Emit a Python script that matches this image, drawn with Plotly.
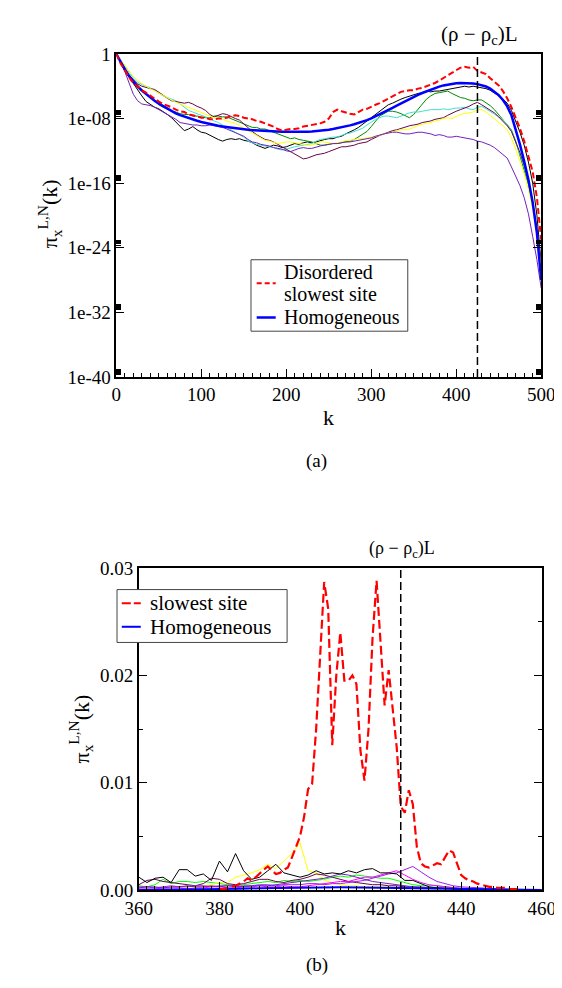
import plotly.graph_objects as go

# ---------------- DATA ----------------
# Panel (a): k grid and log10 of pi_x^{L,N}(k)
k_top = list(range(0, 501, 5))

homogeneous_log10 = [-v for v in [
    0, 1.0, 1.95, 2.75, 3.45, 4.05, 4.55, 5.0, 5.4, 5.8,
    6.15, 6.45, 6.8, 7.1, 7.35, 7.58, 7.78, 7.95, 8.12, 8.28,
    8.44, 8.57, 8.69, 8.8, 8.9, 8.99, 9.07, 9.14, 9.21, 9.28,
    9.34, 9.39, 9.44, 9.48, 9.52, 9.55, 9.58, 9.6, 9.62, 9.64,
    9.65, 9.66, 9.66, 9.66, 9.65, 9.63, 9.6, 9.56, 9.51, 9.45,
    9.38, 9.3, 9.21, 9.1, 8.98, 8.85, 8.71, 8.56, 8.4, 8.2,
    7.98, 7.74, 7.49, 7.23, 6.96, 6.68, 6.4, 6.12, 5.85, 5.59,
    5.33, 5.08, 4.84, 4.62, 4.41, 4.22, 4.05, 3.9, 3.78, 3.69,
    3.63, 3.6, 3.59, 3.61, 3.66, 3.74, 3.86, 4.03, 4.3, 4.65,
    5.1, 5.7, 6.5, 7.6, 9.3, 11.2, 13.3, 15.6, 18.4, 22.2,
    28]]

slowest_log10 = [-v for v in [
    0, 1.2, 2.0, 2.9, 3.6, 4.1, 4.5, 4.8, 5.2, 5.6,
    5.9, 6.2, 6.4, 6.6, 6.9, 7.1, 7.2, 7.5, 7.6, 7.8,
    7.9, 7.9, 8.1, 8.1, 8.0, 8.0, 7.9, 7.7, 7.6, 7.7,
    7.9, 8.0, 8.1, 8.3, 8.4, 8.6, 8.8, 9.0, 9.3, 9.5,
    9.4, 9.3, 9.3, 9.2, 9.0, 8.9, 8.8, 8.7, 8.6, 8.4,
    8.0, 7.2, 6.9, 7.1, 7.3, 7.4, 7.5, 7.2, 6.9, 6.8,
    6.5, 6.3, 6.1, 5.8, 5.5, 5.2, 4.9, 4.7, 4.6, 4.5,
    4.5, 4.3, 4.2, 4.0, 3.8, 3.6, 3.3, 3.0, 2.7, 2.4,
    2.1, 1.7, 1.6, 1.7, 1.6, 2.1, 2.3, 2.5, 3.0, 3.4,
    3.9, 4.6, 5.5, 6.6, 7.8, 9.2, 10.8, 12.6, 14.6, 17.8,
    23]]

black_log10 = [-v for v in [
    0, 1.1, 2.1, 2.9, 3.7, 4.5, 5.2, 5.9, 6.3, 6.6,
    6.8, 7.1, 7.5, 7.9, 8.4, 8.9, 9.5, 9.3, 9.0, 9.4,
    9.7, 9.8, 10.1, 10.3, 10.6, 10.8, 10.6, 10.5, 10.6, 10.5,
    10.7, 10.8, 11.0, 11.3, 11.5, 11.7, 11.5, 11.3, 11.4, 11.6,
    11.5, 11.3, 11.1, 11.2, 11.0, 10.9, 11.0, 10.9, 10.7, 10.6,
    10.5, 10.5, 10.3, 10.2, 9.9, 9.7, 9.4, 9.1, 8.7, 8.2,
    7.8, 7.4, 7.1, 6.7, 6.3, 6.1, 5.8, 5.6, 5.4, 5.2,
    5.1, 4.9, 4.8, 4.6, 4.7, 4.6, 4.6, 4.5, 4.4, 4.3,
    4.2, 4.1, 4.0, 4.1, 4.0, 4.1, 4.2, 4.3, 4.5, 4.8,
    5.2, 5.6, 6.1, 7.0, 8.3, 9.7, 11.3, 13.4, 16.0, 20.0,
    26]]

green_log10 = [-v for v in [
    0, 0.9, 1.8, 2.7, 3.4, 3.9, 4.4, 4.9, 5.4, 5.9,
    6.3, 6.6, 6.9, 7.1, 7.2, 7.4, 7.5, 7.5, 7.7, 7.7,
    7.8, 7.9, 7.9, 7.7, 7.7, 7.8, 7.8, 8.0, 8.2, 8.5,
    8.7, 8.9, 9.1, 9.1, 9.3, 9.3, 9.5, 9.7, 9.9, 10.1,
    10.3, 10.5, 10.4, 10.6, 10.7, 10.8, 10.9, 11.1, 11.3, 11.3,
    11.2, 11.1, 11.1, 11.0, 10.9, 10.8, 10.6, 10.3, 10.0, 9.6,
    9.0, 8.3, 7.7, 7.4, 7.1, 7.1, 7.2, 7.4, 7.7, 7.9,
    7.5, 6.9, 6.2, 5.6, 5.2, 4.9, 4.8, 4.7, 4.6, 4.9,
    5.2, 5.4, 5.5, 5.7, 5.8, 5.7, 5.7, 6.0, 6.4, 6.9,
    7.5, 8.1, 8.7, 9.4, 10.8, 12.5, 14.2, 16.2, 18.5, 21.8,
    26]]

cyan_log10 = [-v for v in [
    0, 0.8, 1.6, 2.3, 3.0, 3.5, 3.8, 4.0, 4.2, 4.5,
    4.9, 5.2, 5.4, 5.6, 5.8, 6.2, 6.6, 7.0, 7.2, 7.4,
    7.6, 7.8, 8.0, 8.3, 8.5, 8.8, 9.1, 9.3, 9.6, 9.9,
    10.3, 10.8, 11.0, 11.2, 11.3, 11.4, 11.5, 11.6, 11.8, 11.9,
    11.8, 11.6, 11.5, 11.4, 11.3, 11.2, 11.1, 10.8, 10.6, 10.5,
    10.4, 10.3, 10.3, 10.1, 9.9, 9.8, 9.6, 9.4, 9.2, 8.8,
    8.4, 8.1, 7.9, 7.7, 7.7, 7.8, 7.9, 7.7, 7.5, 7.3,
    7.2, 7.2, 7.1, 7.0, 6.9, 6.9, 6.9, 6.8, 6.9, 6.8,
    6.7, 6.7, 6.6, 6.8, 6.9, 6.6, 6.5, 6.8, 7.1, 7.4,
    7.8, 8.2, 8.7, 9.5, 10.9, 12.4, 14.0, 16.0, 18.6, 22.0,
    26.5]]

maroon_log10 = [-v for v in [
    0, 0.9, 1.8, 2.6, 3.2, 3.7, 4.0, 4.2, 4.3, 4.4,
    4.7, 5.1, 5.5, 5.8, 5.9, 6.0, 6.1, 6.0, 6.2, 6.5,
    6.7, 7.0, 7.5, 7.8, 7.6, 7.4, 7.5, 7.8, 8.0, 8.2,
    8.7, 9.1, 9.6, 10.0, 10.3, 10.6, 10.7, 10.9, 11.2, 11.5,
    11.9, 12.2, 12.4, 12.8, 13.0, 12.9, 12.7, 12.5, 12.4, 12.3,
    12.1, 11.9, 11.7, 11.5, 11.5, 11.4, 11.3, 11.1, 11.0, 10.9,
    10.6, 10.3, 10.1, 9.9, 9.7, 9.5, 9.4, 9.2, 9.1, 8.9,
    8.8, 8.7, 8.5, 8.4, 8.3, 8.1, 8.0, 7.9, 7.6, 7.3,
    7.1, 6.9, 6.7, 6.5, 6.2, 6.0, 6.3, 6.6, 6.9, 7.3,
    7.8, 8.3, 8.9, 9.6, 10.8, 12.2, 13.8, 15.8, 18.3, 21.8,
    26]]

yellow_log10 = [-v for v in [
    0, 0.7, 1.4, 2.1, 2.8, 3.3, 3.7, 4.0, 4.3, 4.6,
    4.9, 5.2, 5.4, 5.7, 6.0, 6.2, 6.4, 6.6, 6.8, 7.0,
    7.2, 7.4, 7.7, 7.9, 8.0, 8.1, 8.3, 8.5, 8.6, 8.9,
    9.2, 9.5, 9.9, 10.2, 10.5, 10.7, 10.8, 11.0, 11.1, 11.0,
    10.9, 10.9, 11.0, 11.1, 11.2, 11.3, 11.3, 11.1, 10.9, 10.9,
    11.0, 11.1, 11.0, 10.9, 10.7, 10.7, 10.6, 10.5, 10.5, 10.4,
    10.3, 10.2, 10.1, 9.9, 9.8, 9.7, 9.5, 9.4, 9.4, 9.3,
    9.1, 8.9, 8.7, 8.6, 8.5, 8.3, 8.2, 8.0, 7.9, 8.0,
    7.7, 7.5, 7.4, 7.3, 7.2, 6.9, 6.9, 7.2, 7.6, 8.0,
    8.5, 8.9, 9.4, 10.4, 11.8, 13.3, 14.8, 16.8, 19.2, 22.5,
    26.5]]

violet_log10 = [-v for v in [
    0, 1.0, 2.2, 3.6, 5.0, 5.8, 6.2, 6.3, 6.4, 6.6,
    6.9, 7.2, 7.4, 7.7, 8.1, 8.5, 8.6, 8.7, 8.8, 8.8,
    8.9, 8.9, 8.8, 8.9, 9.0, 9.1, 9.3, 9.5, 9.7, 9.9,
    10.2, 10.6, 10.9, 11.0, 11.2, 11.3, 11.4, 11.6, 11.7, 11.8,
    12.0, 12.1, 11.9, 11.7, 11.6, 11.7, 11.7, 11.5, 11.4, 11.3,
    11.2, 11.1, 11.1, 11.0, 10.9, 10.9, 10.8, 10.7, 10.6, 10.5,
    10.4, 10.2, 10.0, 9.9, 9.8, 9.7, 9.7, 9.8, 9.9, 9.9,
    9.8, 9.7, 9.7, 9.8, 9.9, 10.1, 10.0, 10.1, 10.3, 10.3,
    10.2, 10.3, 10.4, 10.5, 10.6, 10.8, 10.9, 11.1, 11.3, 11.6,
    12.0, 12.4, 12.9, 14.0, 15.2, 16.3, 17.8, 19.8, 22.6, 25.5,
    29]]

# Panel (b): linear values near the condensate
k_bot = list(range(360, 461, 2))
black_bot = [
    .0012, .0007, .0011, .0012, .0007, .0019, .0019, .0013, .0015, .0009,
    .0027, .0017, .0034, .0018, .0010, .0012, .0018, .0024, .0016, .0014,
    .0012, .0014, .0018, .0015, .0016, .0015, .0018, .0016, .0019, .0020,
    .0016, .0016, .0015, .0009, .0009, .0006, .0003, .0002, .00015, .0001,
    .0001, .00006, .00004, .00003, .00002, .00001, .00001, 0, 0, 0, 0]
lime_bot = [
    .0004, .0003, .0005, .0010, .0006, .0008, .0008, .0007, .0008, .0007,
    .0006, .0005, .0004, .0005, .0006, .0007, .0008, .0007, .0009, .0008,
    .0009, .0008, .0009, .0010, .0012, .0013, .0012, .0014, .0013, .0012,
    .0011, .0011, .0009, .0007, .0005, .0004, .0004, .0004, .0003, .0002,
    .00015, .0001, .00006, .00004, .00003, .00002, .00001, .00001, 0, 0, 0]
yellow_bot = [
    .0002, .0002, .0002, .0002, .0002, .0003, .0003, .0003, .0004, .0005,
    .0007, .0007, .0012, .0014, .0016, .0019, .0024, .0020, .0027, .0034,
    .0044, .0018, .0016, .0009, .0007, .0005, .0004, .0004, .0003, .0003,
    .0003, .0003, .0002, .0002, .0002, .0002, .00015, .0001, .0001, .00008,
    .00006, .00005, .00004, .00003, .00002, .00002, .00001, .00001, 0, 0, 0]
maroon_bot = [
    .0005, .0009, .0010, .0008, .0007, .0006, .0005, .0004, .0006, .0011,
    .0010, .0006, .0005, .0006, .0008, .0010, .0010, .0008, .0007, .0009,
    .0010, .0012, .0015, .0014, .0012, .0010, .0008, .0007, .0006, .0005,
    .0005, .0004, .0004, .0003, .0003, .0002, .0002, .00015, .0001, .0001,
    .00008, .00006, .00004, .00003, .00002, .00002, .00001, .00001, 0, 0, 0]
magenta_bot = [
    .0001, .0001, .0001, .0002, .0002, .0002, .0001, .0002, .0002, .0003,
    .0003, .0002, .0002, .0003, .0003, .0004, .0003, .0003, .0004, .0003,
    .0003, .0004, .0005, .0006, .0007, .0008, .0008, .0010, .0012, .0012,
    .0014, .0016, .0018, .0014, .0010, .0007, .0005, .0004, .0003, .0002,
    .00015, .0001, .00008, .00006, .00004, .00003, .00002, .00001, .00001, 0, 0]
violet_bot = [
    .0003, .0003, .0002, .0003, .0004, .0003, .0003, .0004, .0004, .0003,
    .0004, .0004, .0003, .0004, .0004, .0005, .0005, .0004, .0005, .0005,
    .0005, .0006, .0006, .0005, .0006, .0006, .0007, .0008, .0009, .0011,
    .0013, .0015, .0016, .0019, .0022, .0017, .0012, .0008, .0006, .0004,
    .0003, .00025, .0002, .00015, .0001, .00008, .00006, .00004, .00003, .00002, .00001]
indigo_bot = [
    .0002, .0003, .0003, .0002, .0003, .0003, .0004, .0003, .0003, .0004,
    .0003, .0004, .0004, .0003, .0004, .0004, .0004, .0005, .0006, .0007,
    .0008, .0009, .0010, .0011, .0013, .0015, .0014, .0012, .0010, .0008,
    .0007, .0006, .0005, .0004, .0003, .0003, .0002, .0002, .00015, .0001,
    .00008, .00006, .00004, .00003, .00002, .00002, .00001, .00001, 0, 0, 0]

k_red_bot = list(range(380, 456))
slowest_bot = [
    .0001, .0001, .0002, .0003, .0004, .0006, .0008, .0011, .0009, .0012,
    .0016, .0019, .0022, .0018, .0015, .0016, .0019, .0021, .0030, .0040,
    .0050, .0068, .0094, .0099, .0150, .0215, .0287, .0262, .0135, .0200,
    .0240, .0195, .0195, .0200, .0192, .0130, .0102, .0150, .0235, .0288,
    .0230, .0172, .0205, .0170, .0133, .0078, .0072, .0093, .0080, .0040,
    .0025, .0022, .0021, .0023, .0025, .0024, .0030, .0037, .0035, .0025,
    .0014, .0011, .0009, .0008, .0006, .0005, .0004, .0003, .0003, .0002,
    .0002, .0002, .0001, .0001, .0001, .0]

rho_minus_rhoc_L = 425

top_ticks = [1, 1e-8, 1e-16, 1e-24, 1e-32, 1e-40]
top_ticktext = ["1", "1e-08", "1e-16", "1e-24", "1e-32", "1e-40"]
bot_ticks = [0, 0.01, 0.02, 0.03]
bot_ticktext = ["0.00", "0.01", "0.02", "0.03"]

legend_top_names = ["Disordered", "slowest site", "Homogeneous"]
legend_bot_names = ["slowest site", "Homogeneous"]

# ---------------- FIGURE ----------------
FONT = "Liberation Serif, Times New Roman, serif"
W, H = 562, 988
RED, BLUE = "#ff0000", "#0000ff"
RED_DASH_TOP, RED_DASH_BOT = "6px,3px", "9px,4px"
fig = go.Figure()


def px_x(p):
    return p / W


def px_y(p):
    return 1 - p / H


thin_top = [
    (black_log10, "#000000"), (green_log10, "#008b00"), (cyan_log10, "#40e0d0"),
    (maroon_log10, "#670748"), (yellow_log10, "#ffff00"), (violet_log10, "#7221bc")]
for arr, col in thin_top:
    fig.add_trace(go.Scatter(x=k_top, y=[10 ** v for v in arr], mode="lines",
                             line=dict(color=col, width=1), showlegend=False,
                             xaxis="x", yaxis="y"))
fig.add_trace(go.Scatter(x=k_top, y=[10 ** v for v in homogeneous_log10], mode="lines",
                         line=dict(color=BLUE, width=2.5), name="Homogeneous",
                         showlegend=False, xaxis="x", yaxis="y"))
fig.add_trace(go.Scatter(x=k_top, y=[10 ** v for v in slowest_log10], mode="lines",
                         line=dict(color=RED, width=2, dash=RED_DASH_TOP),
                         name="Disordered slowest site", showlegend=False,
                         xaxis="x", yaxis="y"))

thin_bot = [
    (lime_bot, "#00ff00"), (yellow_bot, "#ffff00"), (maroon_bot, "#670748"),
    (magenta_bot, "#ff00ff"), (violet_bot, "#a020f0"), (indigo_bot, "#7221bc"),
    (black_bot, "#000000")]
for arr, col in thin_bot:
    fig.add_trace(go.Scatter(x=k_bot, y=arr, mode="lines",
                             line=dict(color=col, width=1), showlegend=False,
                             xaxis="x2", yaxis="y2"))
k_h_bot = [k for k in k_top if 360 <= k <= 460]
h_bot = [10 ** v for k, v in zip(k_top, homogeneous_log10) if 360 <= k <= 460]
fig.add_trace(go.Scatter(x=k_h_bot, y=h_bot, mode="lines",
                         line=dict(color=BLUE, width=2), name="Homogeneous",
                         showlegend=False, xaxis="x2", yaxis="y2"))
fig.add_trace(go.Scatter(x=k_red_bot, y=slowest_bot, mode="lines",
                         line=dict(color=RED, width=2.2, dash=RED_DASH_BOT),
                         name="slowest site", showlegend=False,
                         xaxis="x2", yaxis="y2"))

# vertical dashed markers
for xr, yr in (("x", "y domain"), ("x2", "y2 domain")):
    fig.add_shape(type="line", xref=xr, yref=yr,
                  x0=rho_minus_rhoc_L, x1=rho_minus_rhoc_L, y0=0, y1=1,
                  line=dict(color="black", width=1.5, dash="8px,4px"))


# ---- hand-placed legend boxes (to match the compact original layout) ----
def legend_box(x0, y0, x1, y1):
    fig.add_shape(type="rect", xref="paper", yref="paper",
                  x0=px_x(x0), x1=px_x(x1), y0=px_y(y1), y1=px_y(y0),
                  line=dict(color="#444", width=1), fillcolor="white", layer="above")


def legend_line(x0, x1, y, color, dash, width):
    fig.add_shape(type="line", xref="paper", yref="paper",
                  x0=px_x(x0), x1=px_x(x1), y0=px_y(y), y1=px_y(y),
                  line=dict(color=color, width=width, dash=dash), layer="above")


def legend_text(txt, x, y, size):
    fig.add_annotation(text=txt, x=px_x(x), y=px_y(y), xref="paper", yref="paper",
                       xanchor="left", yanchor="middle", showarrow=False,
                       font=dict(family=FONT, size=size, color="black"))


legend_box(241, 247, 406, 320)
legend_line(247, 267, 271, RED, "5px,3px", 2)
legend_line(247, 267, 306, BLUE, "solid", 2.5)
for name, yy in zip(legend_top_names, (259.5, 282.5, 305.5)):
    legend_text(name, 274, yy, 20)

legend_box(100, 584, 279, 638)
legend_line(105, 125, 598, RED, "9px,3px", 2)
legend_line(105, 125, 622, BLUE, "solid", 2)
for name, yy in zip(legend_bot_names, (598, 622)):
    legend_text(name, 133, yy, 21)

axis_common = dict(showline=True, linecolor="black", linewidth=1.5, ticks="inside",
                   tickcolor="black", tickwidth=1.2, ticklen=8, showgrid=False,
                   zeroline=False, tickfont=dict(family=FONT, size=19, color="black"))

fig.update_layout(
    width=W, height=H, margin=dict(l=0, r=0, t=0, b=0),
    paper_bgcolor="white", plot_bgcolor="white",
    font=dict(family=FONT, color="black"), showlegend=False,
    xaxis=dict(domain=[px_x(99.3), px_x(546.4)], range=[0, 500], anchor="y",
               dtick=100, tick0=0, mirror=True,
               minor=dict(dtick=10, ticklen=4, ticks="inside", tickcolor="black", tickwidth=1),
               **axis_common),
    yaxis=dict(domain=[px_y(366.7), px_y(36.7)], type="log", range=[-40, 0], anchor="x",
               tickmode="array", tickvals=top_ticks, ticktext=top_ticktext, mirror="allticks",
               minor=dict(tickmode="array", ticklen=5, ticks="inside", tickcolor="black",
                          tickwidth=1,
                          tickvals=[m * 10.0 ** (-8 * n) for n in range(1, 6) for m in range(2, 10)]),
               **axis_common),
    xaxis2=dict(domain=[px_x(123), px_x(547)], range=[360, 460], anchor="y2",
                dtick=20, tick0=360, mirror=True,
                minor=dict(dtick=2, ticklen=4, ticks="inside", tickcolor="black", tickwidth=1),
                **axis_common),
    yaxis2=dict(domain=[px_y(891), px_y(562)], range=[0, 0.03], anchor="x2",
                tickmode="array", tickvals=bot_ticks, ticktext=bot_ticktext, mirror="allticks",
                minor=dict(dtick=0.005, ticklen=4, ticks="inside", tickcolor="black", tickwidth=1),
                **axis_common),
)

ytitle = "π<sub>x</sub><sup>L,N</sup>(k)"
annots = [
    dict(text="(ρ − ρ<sub>c</sub>)L", x=px_x(481), y=px_y(17), size=21),
    dict(text="(ρ − ρ<sub>c</sub>)L", x=px_x(400), y=px_y(543), size=18),
    dict(text="k", x=px_x(323), y=px_y(408), size=22),
    dict(text="k", x=px_x(335), y=px_y(929), size=22),
    dict(text="(a)", x=px_x(310), y=px_y(453), size=19),
    dict(text="(b)", x=px_x(310), y=px_y(968), size=19),
]
for a in annots:
    fig.add_annotation(text=a["text"], x=a["x"], y=a["y"], xref="paper", yref="paper",
                       xanchor="center", yanchor="middle", showarrow=False,
                       font=dict(family=FONT, size=a["size"], color="black"))
fig.add_annotation(text=ytitle, x=px_x(29), y=px_y(200), xref="paper", yref="paper",
                   textangle=-90, showarrow=False, xanchor="center", yanchor="middle",
                   font=dict(family=FONT, size=22, color="black"))
fig.add_annotation(text=ytitle, x=px_x(62), y=px_y(726), xref="paper", yref="paper",
                   textangle=-90, showarrow=False, xanchor="center", yanchor="middle",
                   font=dict(family=FONT, size=22, color="black"))

fig.write_html("out.html")
